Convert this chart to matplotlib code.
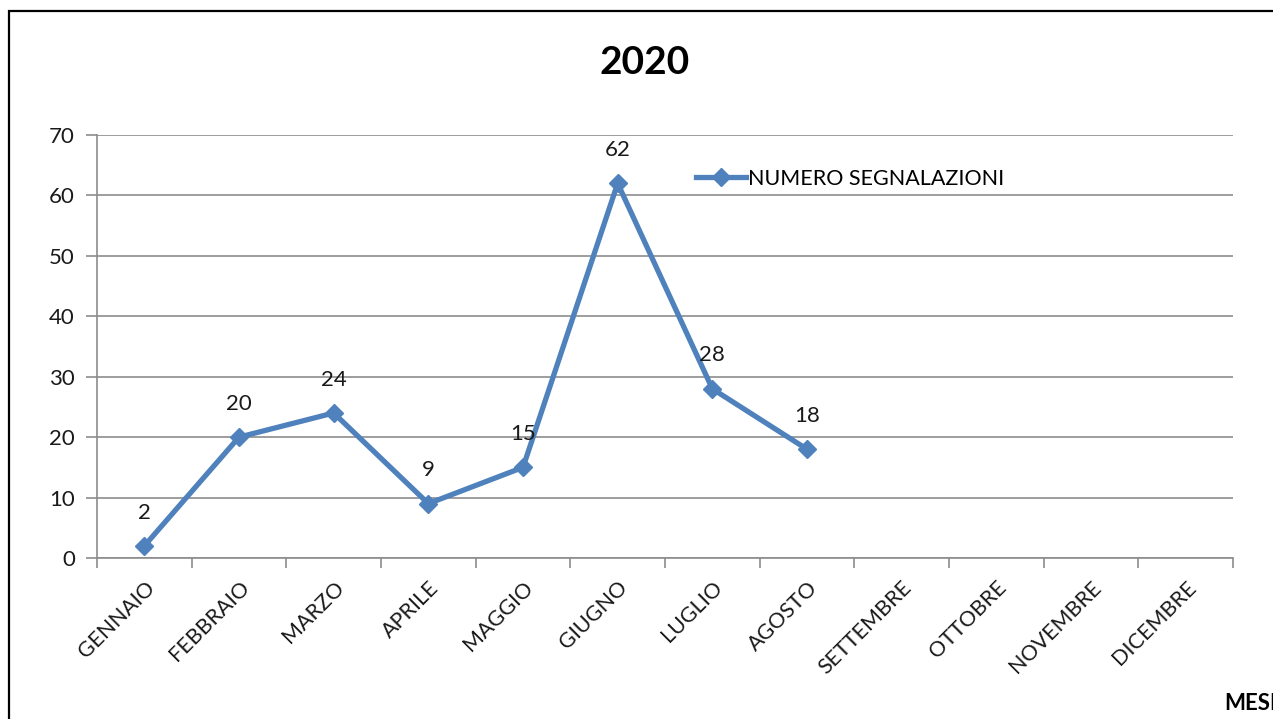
import matplotlib
matplotlib.use("Agg")
import matplotlib.pyplot as plt
from matplotlib.patches import Rectangle

# ── Data ──────────────────────────────────────────────────────────────────
months = ["GENNAIO", "FEBBRAIO", "MARZO", "APRILE", "MAGGIO", "GIUGNO",
          "LUGLIO", "AGOSTO", "SETTEMBRE", "OTTOBRE", "NOVEMBRE", "DICEMBRE"]
segnalazioni = [2, 20, 24, 9, 15, 62, 28, 18]
y_ticks = [0, 10, 20, 30, 40, 50, 60, 70]

LINE_COLOR = "#4F81BD"
GRID_COLOR = "#8C8C8C"
plt.rcParams["font.family"] = ["Lato", "DejaVu Sans"]

fig = plt.figure(figsize=(12.73, 7.19), dpi=100)
ax = fig.add_axes([97 / 1273, 1 - 558 / 719, (1233 - 97) / 1273, (558 - 135) / 719])

x = list(range(len(segnalazioni)))
ax.plot(x, segnalazioni, color=LINE_COLOR, linewidth=3.8, marker="D",
        markersize=9, label="NUMERO SEGNALAZIONI", zorder=3)

for xi, v in zip(x, segnalazioni):
    ax.annotate(str(v), (xi, v), xytext=(0, 24), textcoords="offset points",
                ha="center", va="center", fontsize=16, color="#1a1a1a")

ax.set_xlim(-0.5, len(months) - 0.5)
ax.set_ylim(0, 70)
ax.set_yticks(y_ticks)
ax.grid(True, axis="y", color=GRID_COLOR, linewidth=1.2)
ax.set_axisbelow(True)

# category labels at centres, tick marks at the boundaries
ax.set_xticks(range(len(months)))
ax.set_xticklabels(months, rotation=45, ha="right", rotation_mode="anchor",
                   fontsize=15.5, color="#1a1a1a")
ax.tick_params(axis="x", which="major", length=0, pad=14)
ax.set_xticks([i - 0.5 for i in range(len(months) + 1)], minor=True)
ax.tick_params(axis="x", which="minor", length=7, color=GRID_COLOR, width=1.2)
ax.tick_params(axis="y", length=8, color=GRID_COLOR, width=1.2,
               labelsize=16, labelcolor="#1a1a1a", pad=8)

for side in ["top", "right"]:
    ax.spines[side].set_visible(False)
for side in ["left", "bottom"]:
    ax.spines[side].set_color(GRID_COLOR)
    ax.spines[side].set_linewidth(1.2)

ax.legend(loc="upper left", bbox_to_anchor=(0.52, 0.94), frameon=False,
          fontsize=15.5, handlelength=2.3, handletextpad=0.1, borderaxespad=0)

fig.text(645 / 1273, 1 - 62 / 719, "2020", ha="center", va="center",
         fontsize=28, fontweight="bold")
fig.text(1224 / 1273, 1 - 704 / 719, "MESI", ha="left", va="center",
         fontsize=16, fontweight="bold")

# outer chart frame
fig.patches.append(Rectangle((9 / 1273, -0.1), 1.2, 1 - 11 / 719 + 0.1,
                             transform=fig.transFigure, fill=False,
                             edgecolor="black", linewidth=1.6))

fig.savefig("out.png", dpi=100, facecolor="white")
